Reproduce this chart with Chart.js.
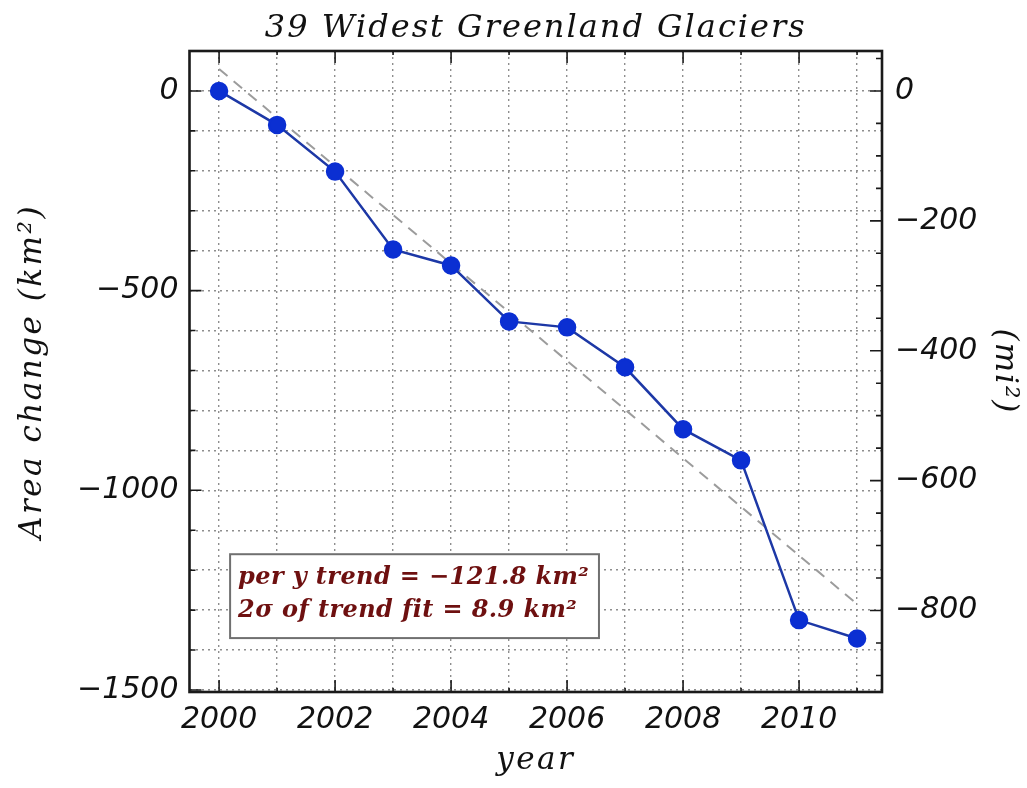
<!DOCTYPE html>
<html lang="en">
<head>
<meta charset="UTF-8">
<title>39 Widest Greenland Glaciers</title>
<script src="https://cdn.jsdelivr.net/npm/chart.js"></script>
<style>
    html, body { margin: 0; padding: 0; background: #ffffff; }
    #wrap { width: 1027px; height: 788px; }
</style>
</head>
<body>
<div id="wrap"><canvas id="glacierChart"></canvas></div>
<script>
// data
const years = [2000, 2001, 2002, 2003, 2004, 2005, 2006, 2007, 2008, 2009, 2010, 2011];
const areaChange = [0, -85, -202, -397, -437, -577, -592, -692, -847, -925, -1325, -1371];

// linear trend (dashed grey)
const trendYears = [2000, 2011];
const trendValues = [55, -1285];

// axis ticks
const kmTicks = [-1500, -1400, -1300, -1200, -1100, -1000, -900, -800, -700, -600, -500, -400, -300, -200, -100, 0, 100];
const kmLabels = [0, -500, -1000, -1500];
const miTicks = [-900, -850, -800, -750, -700, -650, -600, -550, -500, -450, -400, -350, -300, -250, -200, -150, -100, -50, 0, 50];
const miLabels = [0, -200, -400, -600, -800];
const yearLabels = [2000, 2002, 2004, 2006, 2008, 2010];

const chartTitle = '39 Widest Greenland Glaciers';
const xTitle = 'year';
const yTitle = 'Area change (km\u00b2)';
const y2Title = '(mi\u00b2)';
const trendText = ['per y trend = \u2212121.8 km\u00b2', '2\u03c3 of trend fit = 8.9 km\u00b2'];

const minus = v => (v < 0 ? '\u2212' + Math.abs(v) : String(v));
const tickFont = { family: 'DejaVu Sans', style: 'italic', size: 30 };

function spacedText(ctx, text, x, y, rot, spacing) {
    ctx.save();
    ctx.translate(x, y);
    ctx.rotate(rot);
    ctx.letterSpacing = spacing + 'px';
    ctx.fillText(text, 0, 0);
    ctx.restore();
}

// title, axis titles, frame, inward tick marks and the trend text box
const idlFrame = {
    id: 'idlFrame',
    beforeDatasetsDraw(chart) {
        const ctx = chart.ctx;
        const x = chart.scales.x, y = chart.scales.y;
        const x0 = x.getPixelForValue(2000.19), x1 = x.getPixelForValue(2006.55);
        const y0 = y.getPixelForValue(-1160), y1 = y.getPixelForValue(-1370);
        ctx.save();
        ctx.fillStyle = '#ffffff';
        ctx.fillRect(x0, y0, x1 - x0, y1 - y0);
        ctx.strokeStyle = '#707070';
        ctx.lineWidth = 2;
        ctx.strokeRect(x0, y0, x1 - x0, y1 - y0);
        ctx.fillStyle = '#6e1010';
        ctx.font = 'bold italic 24px "DejaVu Serif"';
        ctx.textBaseline = 'alphabetic';
        ctx.textAlign = 'left';
        ctx.letterSpacing = '0.4px';
        ctx.fillText(trendText[0], x0 + 8, y0 + 30);
        ctx.fillText(trendText[1], x0 + 8, y0 + 63);
        ctx.restore();
    },
    afterDraw(chart) {
        const ctx = chart.ctx;
        const a = chart.chartArea;
        const x = chart.scales.x, y = chart.scales.y, y2 = chart.scales.y2;
        ctx.save();
        ctx.strokeStyle = '#1a1a1a';
        ctx.lineWidth = 1.6;
        ctx.beginPath();
        kmTicks.forEach(v => {
            const p = y.getPixelForValue(v);
            const len = v % 500 === 0 ? 12 : 6;
            ctx.moveTo(a.left, p); ctx.lineTo(a.left + len, p);
        });
        miTicks.forEach(v => {
            const p = y2.getPixelForValue(v);
            if (p < a.top || p > a.bottom) return;
            const len = v % 200 === 0 ? 12 : 6;
            ctx.moveTo(a.right, p); ctx.lineTo(a.right - len, p);
        });
        years.forEach(v => {
            const p = x.getPixelForValue(v);
            const len = v % 2 === 0 ? 12 : 4;
            ctx.moveTo(p, a.bottom); ctx.lineTo(p, a.bottom - len);
            ctx.moveTo(p, a.top); ctx.lineTo(p, a.top + len);
        });
        ctx.stroke();
        ctx.lineWidth = 2.6;
        ctx.strokeRect(a.left, a.top, a.right - a.left, a.bottom - a.top);

        const cx = (a.left + a.right) / 2, cy = (a.top + a.bottom) / 2;
        ctx.fillStyle = '#111111';
        ctx.textAlign = 'center';
        ctx.textBaseline = 'alphabetic';
        ctx.font = 'italic 32px "DejaVu Serif"';
        spacedText(ctx, chartTitle, cx, 37, 0, 2);
        ctx.font = 'italic 31px "DejaVu Serif"';
        spacedText(ctx, xTitle, cx, 769, 0, 2.5);
        spacedText(ctx, yTitle, 41, cy, -Math.PI / 2, 2.5);
        spacedText(ctx, y2Title, 996, cy, Math.PI / 2, 2);
        ctx.restore();
    }
};

const ctx = document.getElementById('glacierChart').getContext('2d');
new Chart(ctx, {
    type: 'line',
    data: {
        datasets: [{
            label: 'Area change',
            data: years.map((yr, i) => ({ x: yr, y: areaChange[i] })),
            borderColor: '#1d38a6',
            borderWidth: 2.5,
            backgroundColor: '#0b2fd2',
            pointBackgroundColor: '#0b2fd2',
            pointBorderColor: '#0b2fd2',
            pointRadius: 8,
            tension: 0,
            order: 1
        }, {
            label: 'Trend',
            data: trendYears.map((yr, i) => ({ x: yr, y: trendValues[i] })),
            borderColor: '#9c9c9c',
            borderWidth: 2,
            borderDash: [11, 8],
            pointRadius: 0,
            order: 2
        }]
    },
    options: {
        responsive: true,
        maintainAspectRatio: false,
        animation: false,
        layout: { padding: { top: 51, left: 0, right: 0, bottom: 0 } },
        plugins: {
            legend: { display: false },
            tooltip: { enabled: false },
            title: { display: false }
        },
        scales: {
            x: {
                type: 'linear',
                min: 1999.49,
                max: 2011.43,
                afterBuildTicks: s => { s.ticks = years.map(v => ({ value: v })); },
                afterFit: s => { s.height = 96; },
                ticks: {
                    autoSkip: false,
                    maxRotation: 0,
                    padding: 10,
                    color: '#111111',
                    font: tickFont,
                    callback: v => (yearLabels.includes(v) ? String(v) : '')
                },
                grid: { color: '#8e8e8e', lineWidth: 1.4, drawTicks: false },
                border: { display: false, dash: [2, 4] }
            },
            y: {
                type: 'linear',
                position: 'left',
                min: -1505,
                max: 100,
                afterBuildTicks: s => { s.ticks = kmTicks.map(v => ({ value: v })); },
                afterFit: s => { s.width = 189.5; },
                ticks: {
                    padding: 11,
                    color: '#111111',
                    font: tickFont,
                    callback: v => (kmLabels.includes(v) ? minus(v) : '')
                },
                grid: { color: '#8e8e8e', lineWidth: 1.4, drawTicks: false },
                border: { display: false, dash: [2, 4] }
            },
            y2: {
                type: 'linear',
                position: 'right',
                min: -925.5,
                max: 61.5,
                afterBuildTicks: s => { s.ticks = miTicks.map(v => ({ value: v })); },
                afterFit: s => { s.width = 145; },
                ticks: {
                    padding: 13,
                    color: '#111111',
                    font: tickFont,
                    callback: v => (miLabels.includes(v) ? minus(v) : '')
                },
                grid: { display: false, drawTicks: false },
                border: { display: false }
            }
        }
    },
    plugins: [idlFrame]
});
</script>
</body>
</html>
